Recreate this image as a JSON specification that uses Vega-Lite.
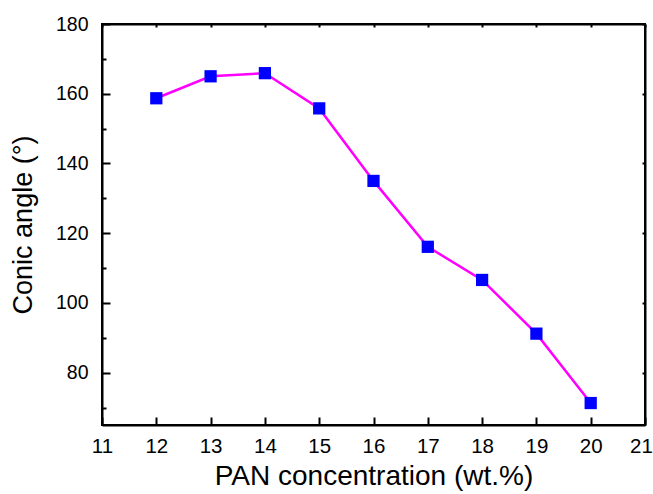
{
  "$schema": "https://vega.github.io/schema/vega-lite/v6.json",
  "autosize": "none",
  "width": 543,
  "height": 401,
  "padding": {"left": 102, "top": 24, "right": 8, "bottom": 69},
  "background": "white",
  "config": {
    "view": {"stroke": "black", "strokeWidth": 2},
    "axis": {"labelFont": "Liberation Sans", "titleFont": "Liberation Sans", "labelColor": "black", "titleColor": "black", "domainColor": "black", "tickColor": "black", "grid": false, "domainWidth": 2, "tickWidth": 2, "titleFontWeight": "normal"}
  },
  "data": {"values": [
    {"pan": 12, "angle": 158.7},
    {"pan": 13, "angle": 165.0},
    {"pan": 14, "angle": 165.9},
    {"pan": 15, "angle": 155.8},
    {"pan": 16, "angle": 135.0},
    {"pan": 17, "angle": 116.1},
    {"pan": 18, "angle": 106.6},
    {"pan": 19, "angle": 91.2},
    {"pan": 20, "angle": 71.3}
  ]},
  "resolve": {"axis": {"x": "independent", "y": "independent"}},
  "layer": [
    {
      "mark": {"type": "line", "color": "#FF00FF", "strokeWidth": 2.5},
      "encoding": {
        "x": {"field": "pan", "type": "quantitative", "scale": {"domain": [11, 21], "nice": false, "zero": false},
          "axis": {"orient": "bottom", "title": "PAN concentration (wt.%)", "values": [11, 11.5, 12, 12.5, 13, 13.5, 14, 14.5, 15, 15.5, 16, 16.5, 17, 17.5, 18, 18.5, 19, 19.5, 20, 20.5, 21],
            "format": "d",
            "labelExpr": "datum.value % 1 == 0 ? format(datum.value, 'd') : ''",
            "tickSize": {"condition": {"test": "datum.value % 1 == 0", "value": -8}, "value": -4},
            "labelOffset": {"condition": {"test": "datum.value == 21", "value": -4}, "value": 0},
            "labelPadding": 19, "labelFontSize": 20.5, "titleFontSize": 28, "titlePadding": 6, "labelFlush": false, "labelOverlap": false}},
        "y": {"field": "angle", "type": "quantitative", "scale": {"domain": [65, 180], "nice": false, "zero": false},
          "axis": {"orient": "left", "title": "Conic angle (°)", "values": [70, 80, 90, 100, 110, 120, 130, 140, 150, 160, 170, 180],
            "labelExpr": "datum.value % 20 == 0 ? datum.label : ''",
            "tickSize": {"condition": {"test": "datum.value % 20 == 0", "value": -8}, "value": -4},
            "labelPadding": 22, "labelFontSize": 19.5, "titleFontSize": 27, "titlePadding": 18, "labelFlush": false, "labelOverlap": false}}
      }
    },
    {
      "mark": {"type": "square", "color": "#0000FF", "opacity": 1, "filled": true, "size": 150},
      "encoding": {
        "x": {"field": "pan", "type": "quantitative",
          "axis": {"orient": "top", "title": null, "labels": false, "values": [11, 12, 13, 14, 15, 16, 17, 18, 19, 20, 21], "tickSize": -3}},
        "y": {"field": "angle", "type": "quantitative",
          "axis": {"orient": "right", "title": null, "labels": false, "values": [80, 100, 120, 140, 160, 180], "tickSize": -3}}
      }
    }
  ]
}
